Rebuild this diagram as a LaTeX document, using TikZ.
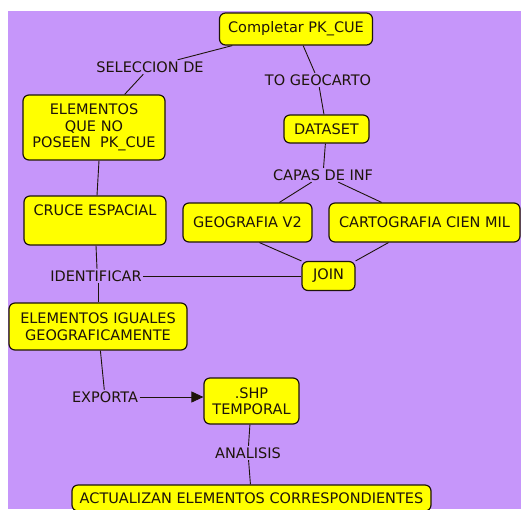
\documentclass[tikz,border=0pt]{standalone}
\usepackage{fontspec}
\setmainfont{DejaVu Sans}
\usetikzlibrary{arrows.meta}
\definecolor{bgpurple}{RGB}{198,150,250}
\definecolor{boxyellow}{RGB}{255,255,0}
\definecolor{ink}{RGB}{30,20,10}
\tikzset{
  concept/.style={draw=ink, line width=1.2pt, fill=boxyellow, rounded corners=6pt,
    align=center, inner sep=0pt, font=\fontsize{14.5}{16.5}\selectfont, text=ink},
  linklabel/.style={inner sep=1.5pt, align=center, font=\fontsize{14.5}{16.5}\selectfont, text=ink},
  conn/.style={draw=ink, line width=0.9pt},
}
\begin{document}
\begin{tikzpicture}[x=1pt,y=-1pt]
\useasboundingbox (0,0) rectangle (521,509);
\fill[white] (0,0) rectangle (521,509);
\fill[bgpurple] (8,11) rectangle (521,509);

\node[concept, minimum width=153pt, minimum height=32pt] (c1) at (296,29) {Completar PK\_CUE};
\node[linklabel] (sel) at (150,67) {SELECCION DE};
\node[concept, minimum width=142pt, minimum height=65pt] (elem) at (94,127.5) {ELEMENTOS\\QUE NO\\POSEEN\ \ PK\_CUE};
\node[linklabel] (togeo) at (318,80) {TO GEOCARTO};
\node[concept, minimum width=85pt, minimum height=28pt] (dataset) at (326.5,129) {DATASET};
\node[linklabel] (capas) at (323,175) {CAPAS DE INF};
\node[concept, minimum width=142pt, minimum height=49pt] (cruce) at (95,220.5) {CRUCE ESPACIAL\\\strut};
\node[concept, minimum width=129pt, minimum height=39pt] (geo) at (247.5,222.5) {GEOGRAFIA V2};
\node[concept, minimum width=191pt, minimum height=39pt] (carto) at (424.5,222.5) {CARTOGRAFIA CIEN MIL};
\node[concept, minimum width=53pt, minimum height=29pt] (join) at (328.5,276) {JOIN};
\node[linklabel] (ident) at (96,276) {IDENTIFICAR};
\node[concept, minimum width=178pt, minimum height=47pt] (eleig) at (98,326.5) {ELEMENTOS IGUALES\\GEOGRAFICAMENTE};
\node[linklabel] (exporta) at (105,397) {EXPORTA};
\node[concept, minimum width=95pt, minimum height=46pt] (shp) at (251.5,401) {.SHP\\TEMPORAL};
\node[linklabel] (analisis) at (248,453) {ANALISIS};
\node[concept, minimum width=359pt, minimum height=26pt] (actual) at (251.5,498) {ACTUALIZAN ELEMENTOS CORRESPONDIENTES};

\draw[conn] (c1) -- (sel);
\draw[conn] (sel) -- (elem);
\draw[conn] (c1) -- (togeo);
\draw[conn] (togeo) -- (dataset);
\draw[conn] ([xshift=5pt]elem.south) -- ([xshift=2pt]cruce.north);
\draw[conn] (dataset) -- (capas);
\draw[conn] (capas) -- (geo);
\draw[conn] (capas) -- (carto);
\draw[conn] ([xshift=12pt]geo.south) -- (join.north west);
\draw[conn] (carto) -- (join);
\draw[conn] ([xshift=1pt]cruce.south) -- ([xshift=1pt]ident.north);
\draw[conn] (ident) -- (join);
\draw[conn] ([xshift=2pt]ident.south) -- ([xshift=2pt]ident.south |- eleig.north);
\draw[conn] (eleig) -- (exporta);
\draw[conn, -{Triangle[length=12pt,width=11pt]}] (exporta.east) -- (exporta.east -| shp.west);
\draw[conn] (shp) -- (analisis);
\draw[conn] (analisis) -- (actual);
\end{tikzpicture}
\end{document}
